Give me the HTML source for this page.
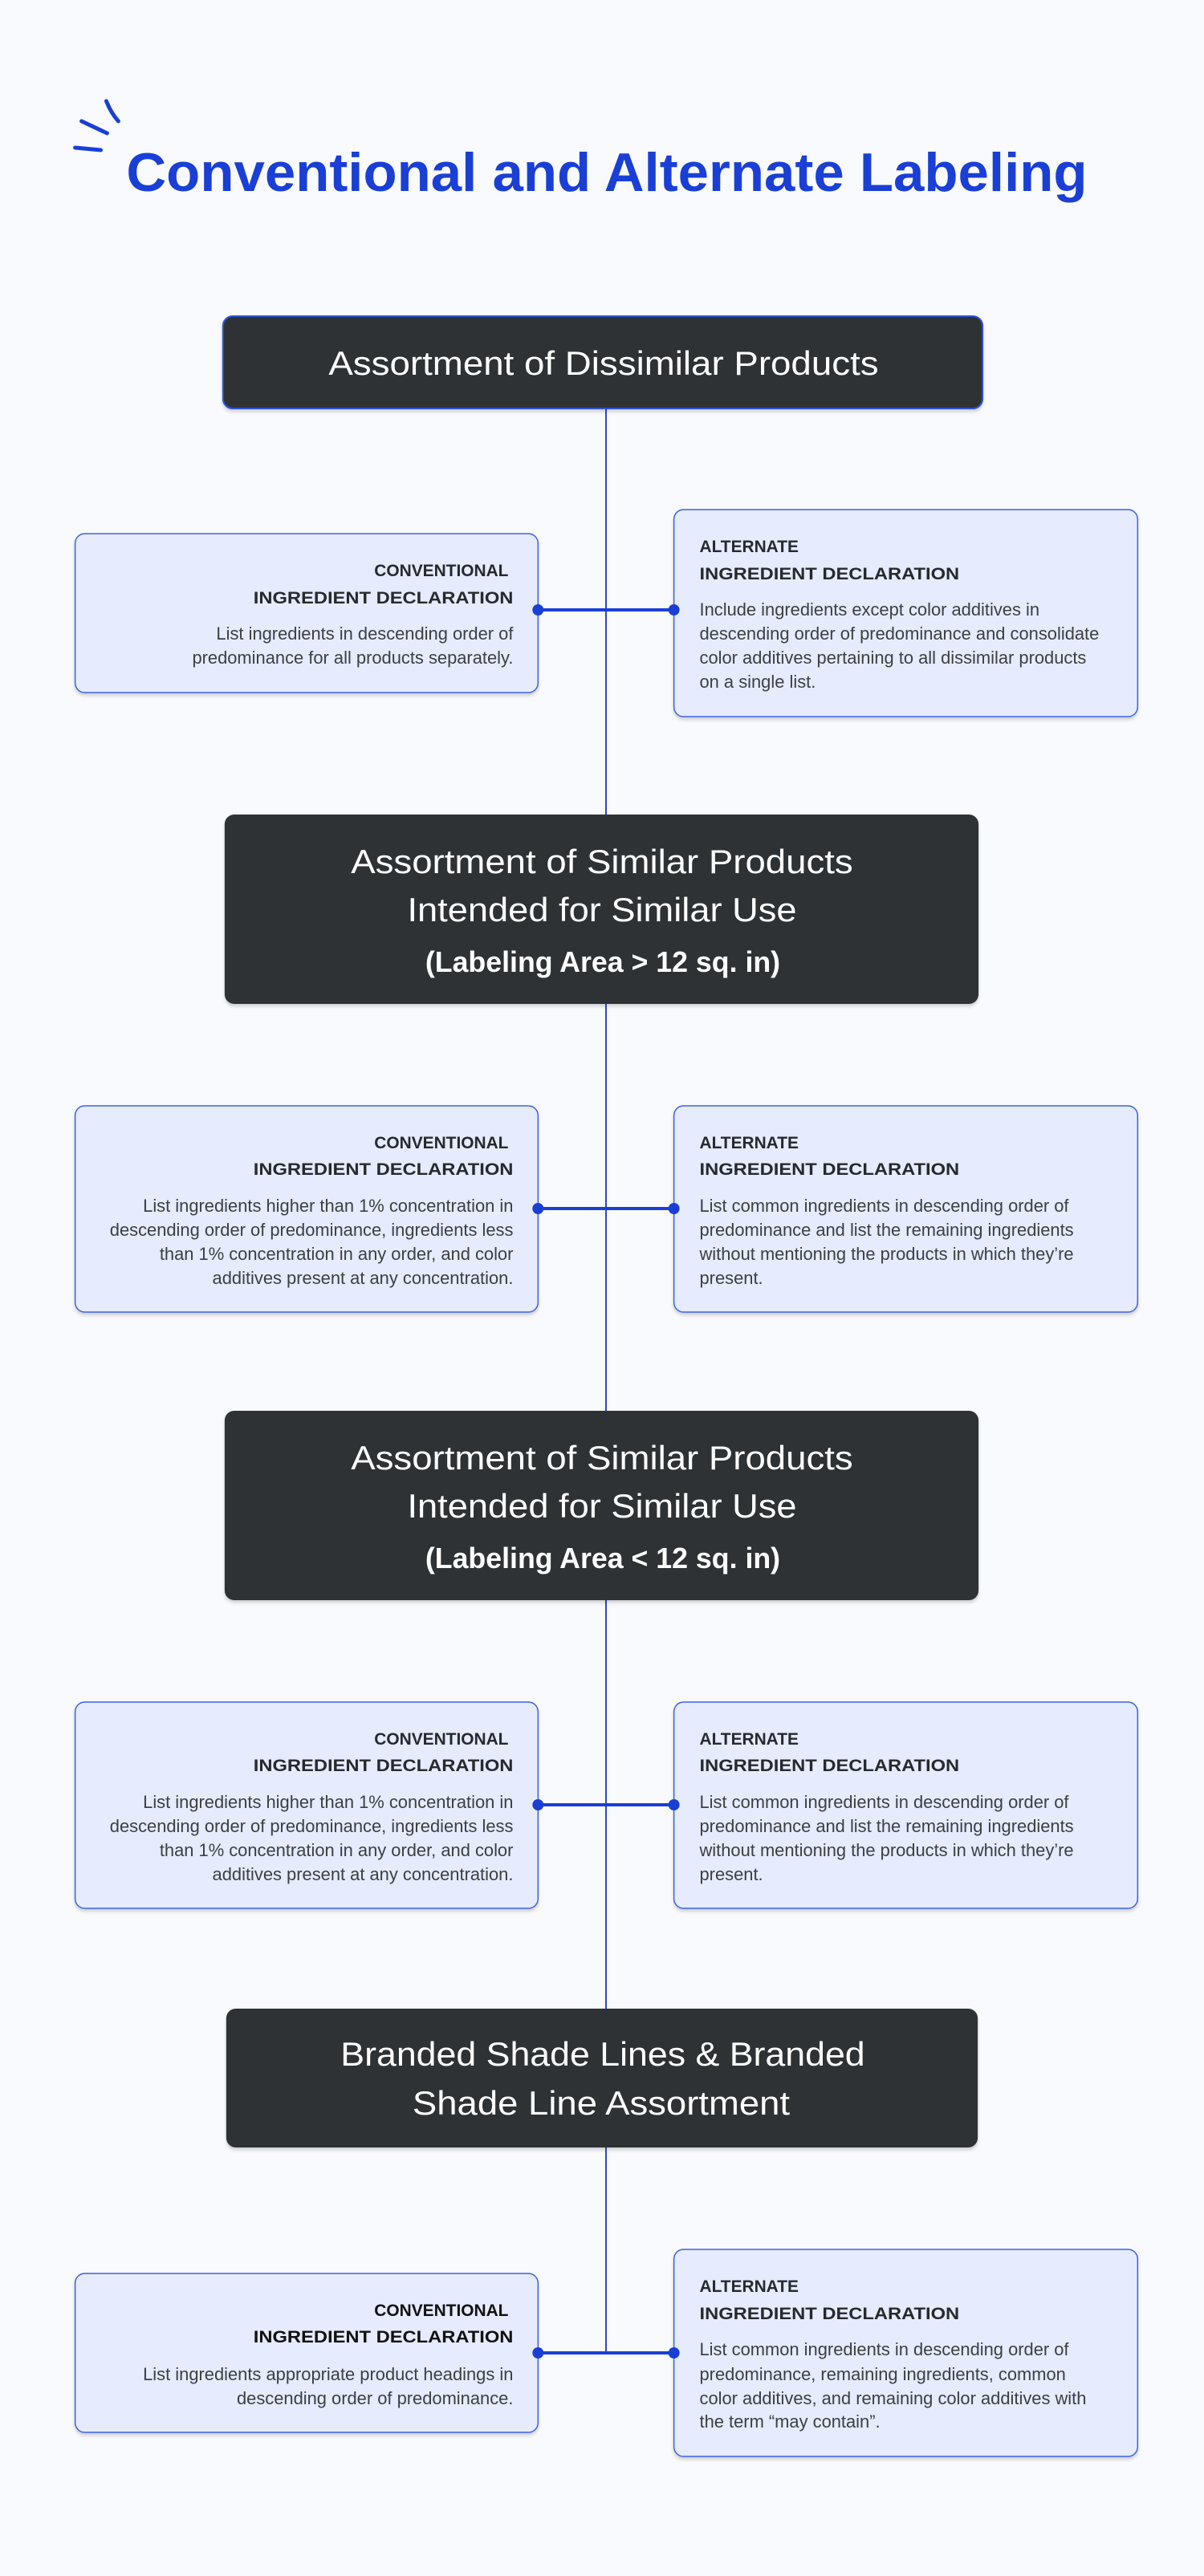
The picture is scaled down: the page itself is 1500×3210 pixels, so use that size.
<!DOCTYPE html>
<html><head><meta charset="utf-8"><style>
html,body{margin:0;padding:0;background:#f9fafd;}
svg{display:block;}
text{font-family:"Liberation Sans",sans-serif;}
.h{font-size:21px;font-weight:bold;fill:#262a2e;}
.b{font-size:22px;fill:#3c4043;}
.d{font-size:42px;fill:#ffffff;}
.db{font-size:36px;fill:#ffffff;font-weight:bold;}
.card{fill:#e6ebfd;stroke:#3f63e0;stroke-width:1.5;}
.dark{fill:#2f3235;}
</style></head><body>
<svg width="1500" height="3210" viewBox="0 0 1500 3210" xmlns="http://www.w3.org/2000/svg">
<defs>
<filter id="sh" x="-5%" y="-5%" width="110%" height="120%"><feDropShadow dx="0" dy="3" stdDeviation="2" flood-color="#000" flood-opacity="0.18"/></filter>
</defs>
<rect width="1500" height="3210" fill="#f9fafd"/>
<g transform="scale(0.996,1)">
<g stroke="#1a3fd6" stroke-width="5" stroke-linecap="round" fill="none">
<path d="M133 126 Q139 141 148 151"/>
<path d="M102 151 L134 166"/>
<path d="M94 184 L126 187"/>
</g>
<text x="158" y="238" font-size="68" font-weight="bold" fill="#1a3fd6" textLength="1202" lengthAdjust="spacingAndGlyphs">Conventional and Alternate Labeling</text>

<line x1="758" y1="500" x2="758" y2="2932" stroke="#2147d6" stroke-width="2"/>

<!-- Section 1 -->
<rect x="279" y="394" width="950" height="115" rx="12" class="dark" stroke="#2f52d8" stroke-width="2" filter="url(#sh)"/>
<text x="755" y="467" text-anchor="middle" class="d" textLength="688" lengthAdjust="spacingAndGlyphs">Assortment of Dissimilar Products</text>
<rect x="94" y="665" width="579" height="198" rx="12" class="card" filter="url(#sh)"/>
<rect x="843" y="635" width="580" height="258" rx="12" class="card" filter="url(#sh)"/>
<line x1="673" y1="760" x2="843" y2="760" stroke="#1a3fd6" stroke-width="4"/>
<circle cx="673" cy="760" r="7" fill="#1a3fd6"/><circle cx="843" cy="760" r="7" fill="#1a3fd6"/>
<g text-anchor="end">
<text x="636" y="718" class="h">CONVENTIONAL</text>
<text x="642" y="752" class="h" textLength="325" lengthAdjust="spacingAndGlyphs">INGREDIENT DECLARATION</text>
<text x="642" y="797" class="b">List ingredients in descending order of</text>
<text x="642" y="827" class="b">predominance for all products separately.</text>
</g>
<text x="875" y="688" class="h">ALTERNATE</text>
<text x="875" y="722" class="h" textLength="325" lengthAdjust="spacingAndGlyphs">INGREDIENT DECLARATION</text>
<text x="875" y="767" class="b">Include ingredients except color additives in</text>
<text x="875" y="797" class="b">descending order of predominance and consolidate</text>
<text x="875" y="827" class="b">color additives pertaining to all dissimilar products</text>
<text x="875" y="857" class="b">on a single list.</text>

<!-- Section 2 -->
<rect x="281" y="1015" width="943" height="236" rx="12" class="dark" filter="url(#sh)"/>
<text x="753" y="1088" text-anchor="middle" class="d" textLength="628" lengthAdjust="spacingAndGlyphs">Assortment of Similar Products</text>
<text x="753" y="1148" text-anchor="middle" class="d" textLength="487" lengthAdjust="spacingAndGlyphs">Intended for Similar Use</text>
<text x="754" y="1211" text-anchor="middle" class="db" textLength="444" lengthAdjust="spacingAndGlyphs">(Labeling Area &gt; 12 sq. in)</text>
<rect x="94" y="1378" width="579" height="257" rx="12" class="card" filter="url(#sh)"/>
<rect x="843" y="1378" width="580" height="257" rx="12" class="card" filter="url(#sh)"/>
<line x1="673" y1="1506" x2="843" y2="1506" stroke="#1a3fd6" stroke-width="4"/>
<circle cx="673" cy="1506" r="7" fill="#1a3fd6"/><circle cx="843" cy="1506" r="7" fill="#1a3fd6"/>
<g text-anchor="end">
<text x="636" y="1431" class="h">CONVENTIONAL</text>
<text x="642" y="1464" class="h" textLength="325" lengthAdjust="spacingAndGlyphs">INGREDIENT DECLARATION</text>
<text x="642" y="1510" class="b">List ingredients higher than 1% concentration in</text>
<text x="642" y="1540" class="b">descending order of predominance, ingredients less</text>
<text x="642" y="1570" class="b">than 1% concentration in any order, and color</text>
<text x="642" y="1600" class="b">additives present at any concentration.</text>
</g>
<text x="875" y="1431" class="h">ALTERNATE</text>
<text x="875" y="1464" class="h" textLength="325" lengthAdjust="spacingAndGlyphs">INGREDIENT DECLARATION</text>
<text x="875" y="1510" class="b">List common ingredients in descending order of</text>
<text x="875" y="1540" class="b">predominance and list the remaining ingredients</text>
<text x="875" y="1570" class="b">without mentioning the products in which they’re</text>
<text x="875" y="1600" class="b">present.</text>

<!-- Section 3 -->
<rect x="281" y="1758" width="943" height="236" rx="12" class="dark" filter="url(#sh)"/>
<text x="753" y="1831" text-anchor="middle" class="d" textLength="628" lengthAdjust="spacingAndGlyphs">Assortment of Similar Products</text>
<text x="753" y="1891" text-anchor="middle" class="d" textLength="487" lengthAdjust="spacingAndGlyphs">Intended for Similar Use</text>
<text x="754" y="1954" text-anchor="middle" class="db" textLength="444" lengthAdjust="spacingAndGlyphs">(Labeling Area &lt; 12 sq. in)</text>
<rect x="94" y="2121" width="579" height="257" rx="12" class="card" filter="url(#sh)"/>
<rect x="843" y="2121" width="580" height="257" rx="12" class="card" filter="url(#sh)"/>
<line x1="673" y1="2249" x2="843" y2="2249" stroke="#1a3fd6" stroke-width="4"/>
<circle cx="673" cy="2249" r="7" fill="#1a3fd6"/><circle cx="843" cy="2249" r="7" fill="#1a3fd6"/>
<g text-anchor="end">
<text x="636" y="2174" class="h">CONVENTIONAL</text>
<text x="642" y="2207" class="h" textLength="325" lengthAdjust="spacingAndGlyphs">INGREDIENT DECLARATION</text>
<text x="642" y="2253" class="b">List ingredients higher than 1% concentration in</text>
<text x="642" y="2283" class="b">descending order of predominance, ingredients less</text>
<text x="642" y="2313" class="b">than 1% concentration in any order, and color</text>
<text x="642" y="2343" class="b">additives present at any concentration.</text>
</g>
<text x="875" y="2174" class="h">ALTERNATE</text>
<text x="875" y="2207" class="h" textLength="325" lengthAdjust="spacingAndGlyphs">INGREDIENT DECLARATION</text>
<text x="875" y="2253" class="b">List common ingredients in descending order of</text>
<text x="875" y="2283" class="b">predominance and list the remaining ingredients</text>
<text x="875" y="2313" class="b">without mentioning the products in which they’re</text>
<text x="875" y="2343" class="b">present.</text>

<!-- Section 4 -->
<rect x="283" y="2503" width="940" height="173" rx="12" class="dark" filter="url(#sh)"/>
<text x="754" y="2574" text-anchor="middle" class="d" textLength="656" lengthAdjust="spacingAndGlyphs">Branded Shade Lines &amp; Branded</text>
<text x="752" y="2635" text-anchor="middle" class="d" textLength="472" lengthAdjust="spacingAndGlyphs">Shade Line Assortment</text>
<rect x="94" y="2833" width="579" height="198" rx="12" class="card" filter="url(#sh)"/>
<rect x="843" y="2803" width="580" height="258" rx="12" class="card" filter="url(#sh)"/>
<line x1="673" y1="2932" x2="843" y2="2932" stroke="#1a3fd6" stroke-width="4"/>
<circle cx="673" cy="2932" r="7" fill="#1a3fd6"/><circle cx="843" cy="2932" r="7" fill="#1a3fd6"/>
<g text-anchor="end">
<text x="636" y="2886" class="h" style="fill:#111">CONVENTIONAL</text>
<text x="642" y="2919" class="h" style="fill:#111" textLength="325" lengthAdjust="spacingAndGlyphs">INGREDIENT DECLARATION</text>
<text x="642" y="2966" class="b">List ingredients appropriate product headings in</text>
<text x="642" y="2996" class="b">descending order of predominance.</text>
</g>
<text x="875" y="2856" class="h">ALTERNATE</text>
<text x="875" y="2890" class="h" textLength="325" lengthAdjust="spacingAndGlyphs">INGREDIENT DECLARATION</text>
<text x="875" y="2935" class="b">List common ingredients in descending order of</text>
<text x="875" y="2966" class="b">predominance, remaining ingredients, common</text>
<text x="875" y="2996" class="b">color additives, and remaining color additives with</text>
<text x="875" y="3025" class="b">the term “may contain”.</text>
</g>
</svg>
</body></html>
